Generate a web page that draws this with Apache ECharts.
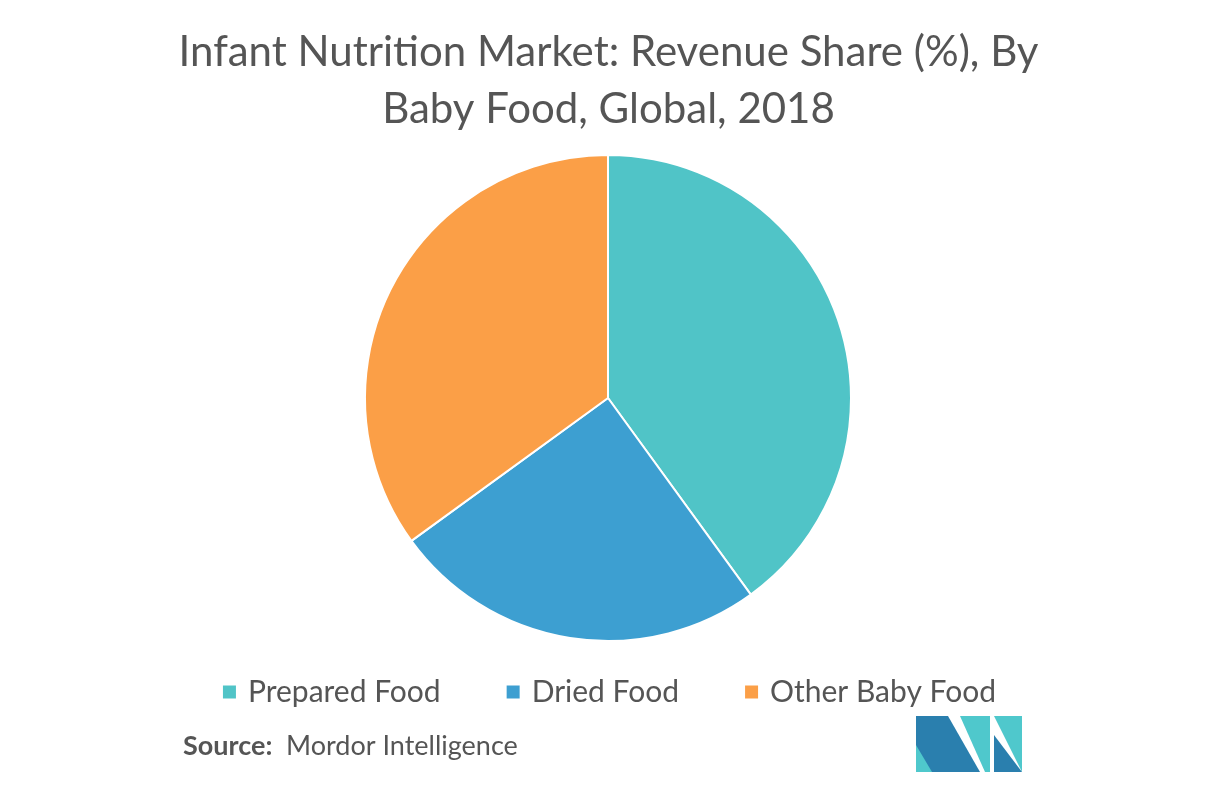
<!DOCTYPE html>
<html>
<head>
<meta charset="utf-8">
<script src="https://cdn.jsdelivr.net/npm/echarts@6/dist/echarts.min.js"></script>
<style>html,body{margin:0;padding:0;background:#fff}#chart{width:1217px;height:785px}</style>
</head>
<body>
<div id="chart"></div>
<script>
var categories = ['Prepared Food', 'Dried Food', 'Other Baby Food'];
var shares = [40, 25, 35];
var colors = ['#50c4c7', '#3d9fd1', '#fb9f47'];

var chart = echarts.init(document.getElementById('chart'));
var option = {
  animation: false,
  title: {
    text: 'Infant Nutrition Market: Revenue Share (%), By\nBaby Food, Global, 2018',
    left: 'center',
    top: 19,
    textStyle: { fontFamily: 'Lato', fontWeight: 'normal', fontSize: 42, color: '#555', lineHeight: 57 }
  },
  legend: {
    top: 672,
    left: 'center',
    icon: 'rect',
    itemWidth: 15,
    itemHeight: 15,
    itemGap: 64,
    textStyle: { fontFamily: 'Lato', fontSize: 30, color: '#555', padding: [0, 0, 0, 6] },
    data: categories
  },
  graphic: [
    { type: 'text', left: 183, top: 733, style: { text: 'Source:', font: 'bold 27px Lato', fill: '#555' } },
    { type: 'text', left: 286, top: 733, style: { text: 'Mordor Intelligence', font: '27px Lato', fill: '#555' } },
    { type: 'polygon', shape: { points: [[916,772],[916,716],[948,716],[980,772]] }, style: { fill: '#2a7fae' } },
    { type: 'polygon', shape: { points: [[916,772],[916,745],[932,772]] }, style: { fill: '#4fc8cc' } },
    { type: 'polygon', shape: { points: [[960,716],[990,716],[990,772],[985,772]] }, style: { fill: '#4fc8cc' } },
    { type: 'polygon', shape: { points: [[994,716],[1022,716],[1022,772]] }, style: { fill: '#4fc8cc' } },
    { type: 'polygon', shape: { points: [[994,735],[1022,772],[994,772]] }, style: { fill: '#2a7fae' } }
  ],
  series: [{
    type: 'pie',
    center: [608, 398],
    radius: 243,
    startAngle: 90,
    clockwise: true,
    label: { show: false },
    labelLine: { show: false },
    itemStyle: { borderColor: '#fff', borderWidth: 2 },
    data: categories.map(function (c, i) {
      return { name: c, value: shares[i], itemStyle: { color: colors[i] } };
    })
  }]
};
chart.setOption(option);
</script>
</body>
</html>
